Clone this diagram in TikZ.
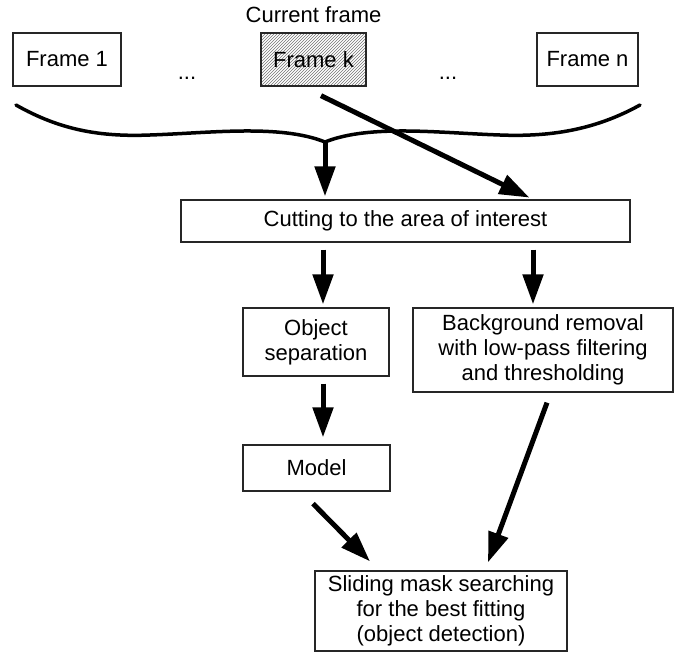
\documentclass[tikz,border=0pt]{standalone}
\usepackage{fontspec}
\setmainfont{Liberation Sans}
\usetikzlibrary{arrows.meta, patterns, positioning}
\tikzset{
    >={Triangle[length=30pt, width=20pt]},
    box/.style={draw=black!85, line width=1.3pt, align=center, inner sep=0pt, font=\fontsize{22}{25}\selectfont},
    current/.style={box, pattern=north east lines, pattern color=black!55},
    plain/.style={font=\fontsize{22}{25}\selectfont},
    flow/.style={->, line width=5pt},
    braceline/.style={line width=3.5pt, line cap=round},
}

\begin{document}
\begin{tikzpicture}[x=1pt, y=-1pt]
    \useasboundingbox (0,0) rectangle (682,653);
    % frames
    \node[box, minimum width=108pt, minimum height=53pt] (frame1) at (67,59.5) {Frame 1};
    \node[current, minimum width=105pt, minimum height=53pt] (framek) at (313.5,59.5) {Frame k};
    \node[box, minimum width=101pt, minimum height=53pt] (framen) at (587.5,59.5) {Frame n};
    \node[plain, above=6pt of framek] (cur) {Current frame};
    \foreach \x [count=\i] in {187,448} \node[plain, anchor=base] (dots\i) at (\x,79) {...};
    % processing steps
    \node[box, minimum width=449pt, minimum height=42pt] (cut) at (405.5,221) {Cutting to the area of interest};
    \node[box, minimum width=146pt, minimum height=68pt] (objsep) at (316,342) {Object\\separation};
    \node[box, minimum width=260pt, minimum height=84pt] (bgrem) at (543,350) {Background removal\\with low-pass filtering\\and thresholding};
    \node[box, minimum width=147pt, minimum height=46pt] (model) at (316.5,468) {Model};
    \node[box, minimum width=252pt, minimum height=80pt] (slide) at (441,611) {Sliding mask searching\\for the best fitting\\(object detection)};
    \coordinate (bracetip) at (325,142);
    \coordinate (lcol) at (323,0);
    \coordinate (rcol) at (533,0);
    % brace under the frames
    \draw[braceline] (16,105) .. controls (60,130) and (100,137) .. (150,135)
        .. controls (210,133) and (280,124) .. (bracetip)
        .. controls (370,124) and (440,133) .. (500,135)
        .. controls (550,137) and (595,130) .. (640,105);
    \draw[flow, shorten >=3pt] (bracetip) -- (bracetip |- cut.north);
    \draw[flow, shorten >=4pt] ([xshift=7.5pt, yshift=-9pt]framek.south) -- (cut.north -| rcol);
    \foreach \col/\n in {lcol/objsep, rcol/bgrem}
        \draw[flow, shorten <=7pt, shorten >=3pt] (cut.south -| \col) -- (\n.north -| \col);
    \draw[flow, shorten <=7pt, shorten >=7pt] (objsep.south -| lcol) -- (model.north -| lcol);
    \draw[flow] ([xshift=-3.5pt, yshift=-12pt]model.south) -- ([xshift=-71pt, yshift=9pt]slide.north);
    \draw[flow] ([xshift=4pt, yshift=-10pt]bgrem.south) -- ([xshift=47pt, yshift=8pt]slide.north);
\end{tikzpicture}
\end{document}
